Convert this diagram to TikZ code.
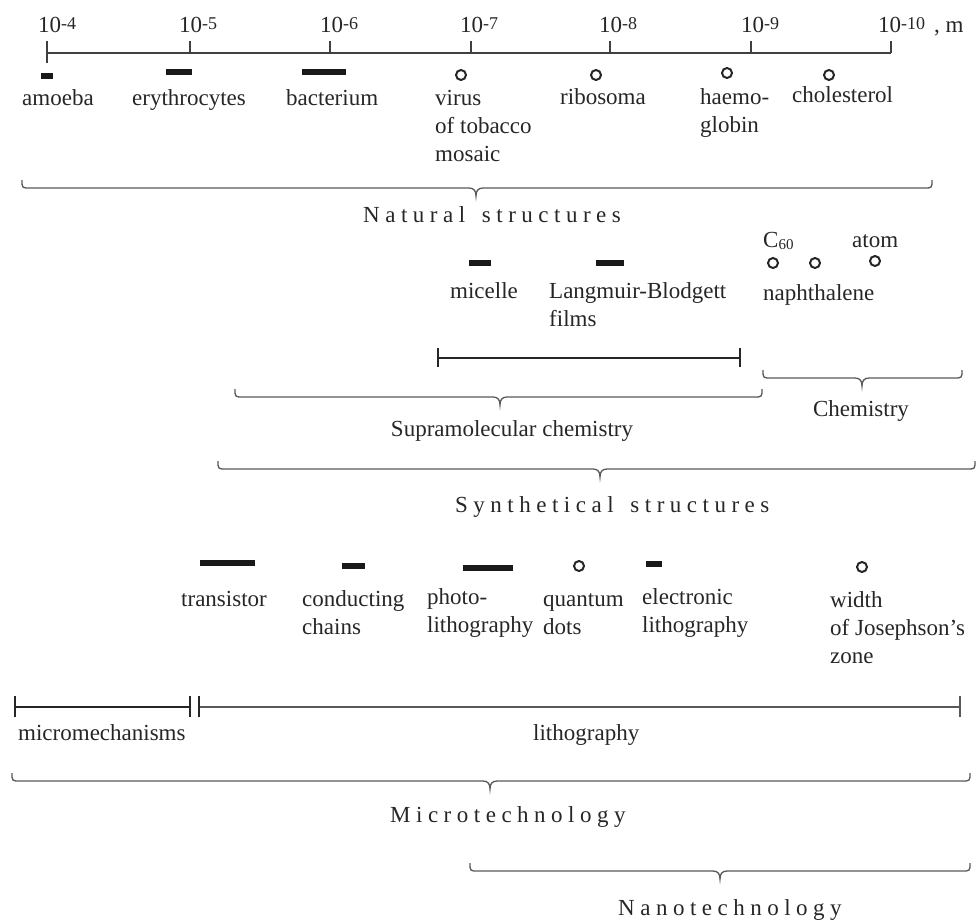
\documentclass[tikz,border=0pt]{standalone}
\usepackage{fontspec}
\setmainfont{Liberation Serif}
\newcommand\expo[1]{\raisebox{3pt}{\fontsize{18}{18}\selectfont #1}}
\newcommand\ml[1]{\begin{tabular}[t]{@{}l@{}}#1\end{tabular}}
\def\lsp#1{\lspA#1\relax}
\def\lspA#1{\ifx\relax#1\else#1\kern5.5pt\expandafter\lspA\fi}
\newcommand\mybrace[4]{% x1 x2 xm y
 \draw[brc] (#1,#4-8) .. controls (#1,#4) and (#1,#4) .. (#1+8,#4) -- (#3-7,#4)
   .. controls (#3-2,#4) and (#3,#4+3) .. (#3,#4+8)
   .. controls (#3,#4+3) and (#3+2,#4) .. (#3+7,#4) -- (#2-8,#4)
   .. controls (#2,#4) and (#2,#4) .. (#2,#4-8);}
\begin{document}
\begin{tikzpicture}[x=1pt,y=-1pt,
  lbl/.style={anchor=base west,inner sep=0pt,text=black!85,font=\fontsize{23}{28}\selectfont},
  bar/.style={fill=black!90,draw=none,inner sep=0pt,minimum height=6pt,rectangle},
  dot/.style={circle,draw=black!85,line width=2pt,minimum size=10pt,inner sep=0pt},
  brc/.style={draw=black!65,line width=1.3pt},
  axis/.style={draw=black!75,line width=1.5pt},
  ival/.style={draw=black!85,line width=1.5pt},
]
\useasboundingbox (0,0) rectangle (977,923);

% ---------- scale ----------
\draw[axis] (47,53) -- (891,53);
\draw[axis] (47,41) -- (47,63);
\foreach \x in {190,330,471,610,751,891} \draw[axis] (\x,41) -- (\x,53);
\node[lbl] (t4) at (38,33) {10\expo{-4}};
\node[lbl] (t5) at (179,33) {10\expo{-5}};
\node[lbl] (t6) at (320,33) {10\expo{-6}};
\node[lbl] (t7) at (460,33) {10\expo{-7}};
\node[lbl] (t8) at (599,33) {10\expo{-8}};
\node[lbl] (t9) at (741,33) {10\expo{-9}};
\node[lbl] (t10) at (878,33) {10\expo{-10}\hspace{9pt}, m};

% ---------- natural structures ----------
\node[bar,minimum width=12pt] (amoebaM) at (47,76) {};
\node[bar,minimum width=26pt] (eryM) at (179,72.5) {};
\node[bar,minimum width=44pt] (bacM) at (324,72.5) {};
\node[dot] (virM) at (461,75) {};
\node[dot] (ribM) at (596,75) {};
\node[dot] (haeM) at (727,73) {};
\node[dot] (choM) at (829,75) {};
\node[lbl] (amoeba) at (22,106) {amoeba};
\node[lbl] (ery) at (132,106) {erythrocytes};
\node[lbl] (bac) at (286,106) {bacterium};
\node[lbl] (vir) at (435,106) {\ml{virus\\of tobacco\\mosaic}};
\node[lbl] (rib) at (560,105) {ribosoma};
\node[lbl] (hae) at (700,105) {\ml{haemo-\\globin}};
\node[lbl] (cho) at (792,103) {cholesterol};
\mybrace{22}{932}{476}{188}
\node[lbl] (nat) at (363,222) {\lsp{Natural\ structures}};

% ---------- synthetical structures ----------
\node[bar,minimum width=22pt] (micM) at (480,263) {};
\node[bar,minimum width=28pt] (lbM) at (610,263) {};
\node[dot] (c60M) at (773,263) {};
\node[dot] (napM) at (815,263) {};
\node[dot] (atoM) at (875,261) {};
\node[lbl] (c60) at (763,247) {C\raisebox{-2pt}{\fontsize{15}{15}\selectfont 60}};
\node[lbl] (ato) at (852,247) {atom};
\node[lbl] (mic) at (450,298) {micelle};
\node[lbl] (lb) at (549,298) {\ml{Langmuir-Blodgett\\films}};
\node[lbl] (nap) at (763,300) {naphthalene};
\coordinate (s1) at (438,358);
\coordinate (s2) at (740,358);
\draw[ival] (s1) -- (s2);
\draw[ival] ([yshift=-9pt]s1) -- ([yshift=10pt]s1);
\draw[ival] ([yshift=-9pt]s2) -- ([yshift=10pt]s2);
\mybrace{235}{762}{500}{397}
\mybrace{763}{962}{862}{378}
\node[lbl,anchor=base] (chem) at (861,416) {Chemistry};
\node[lbl,anchor=base] (supra) at (512,436) {Supramolecular chemistry};
\mybrace{218}{975}{600}{469}
\node[lbl] (syn) at (455,512) {\lsp{Synthetical\ structures}};

% ---------- technology ----------
\node[bar,minimum width=55pt] (traM) at (227.5,563) {};
\node[bar,minimum width=23pt] (conM) at (353.5,566) {};
\node[bar,minimum width=50pt] (phoM) at (488,568) {};
\node[dot] (quaM) at (579,566) {};
\node[bar,minimum width=16pt] (eleM) at (654,564) {};
\node[dot] (josM) at (862,567) {};
\node[lbl] (tra) at (181,606) {transistor};
\node[lbl] (con) at (302,606) {\ml{conducting\\chains}};
\node[lbl] (pho) at (427,604) {\ml{photo-\\lithography}};
\node[lbl] (qua) at (543,606) {\ml{quantum\\dots}};
\node[lbl] (ele) at (642,604) {\ml{electronic\\lithography}};
\node[lbl] (jos) at (830,607) {\ml{width\\of Josephson’s\\zone}};

\coordinate (m1) at (15,707);
\coordinate (m2) at (190,707);
\coordinate (l1) at (199,707);
\coordinate (l2) at (960,707);
\draw[ival] (m1) -- (m2);
\foreach \c in {m1,m2} \draw[ival] ([yshift=-10pt]\c) -- ([yshift=11pt]\c);
\draw[ival,draw=black!65] (l1) -- (l2);
\draw[ival] ([yshift=-10pt]l1) -- ([yshift=11pt]l1);
\draw[ival,draw=black!65] ([yshift=-10pt]l2) -- ([yshift=11pt]l2);
\node[lbl] (mm) at (18,740) {micromechanisms};
\node[lbl] (lit) at (533,740) {lithography};
\mybrace{12}{970}{490}{781}
\node[lbl] (micro) at (390,822) {\lsp{Microtechnology}};
\mybrace{470}{970}{720}{871}
\node[lbl] (nano) at (618,915) {\lsp{Nanotechnology}};
\end{tikzpicture}
\end{document}
